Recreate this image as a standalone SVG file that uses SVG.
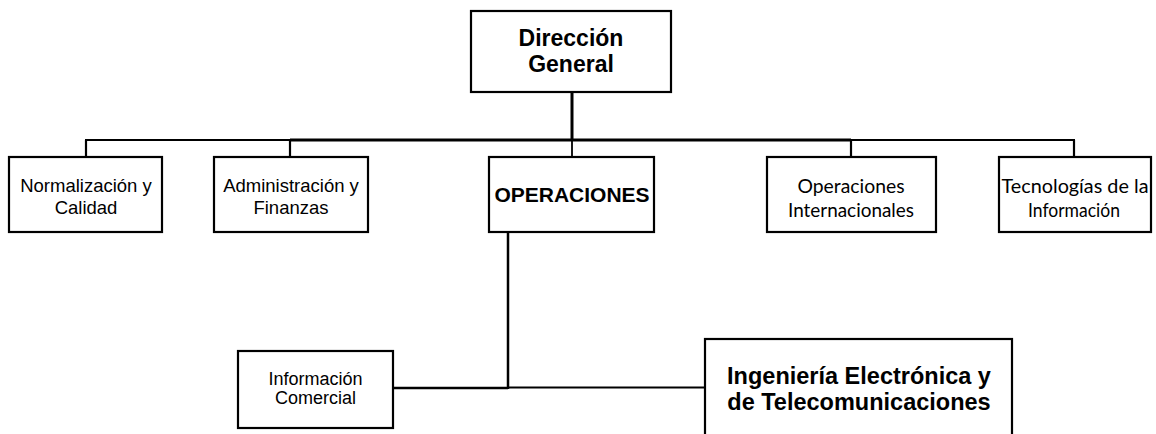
<svg xmlns="http://www.w3.org/2000/svg" width="1156" height="434" viewBox="0 0 1156 434">
<style>
.box{fill:#fff;stroke:#000;stroke-width:2.2}
.ln{stroke:#000;fill:none;stroke-linecap:butt}
.t{font-family:"Liberation Sans",Arial,sans-serif;fill:#000;text-anchor:middle}
.b{font-weight:bold}
.c{font-family:Lato,"Liberation Sans",sans-serif;fill:#000;text-anchor:middle}
</style>
<rect width="1156" height="434" fill="#fff"/>
<g id="connectors">
<line class="ln" x1="572" y1="92" x2="572" y2="140" stroke-width="3"/>
<line class="ln" x1="85" y1="140" x2="290" y2="140" stroke-width="2.2"/>
<line class="ln" x1="290" y1="140" x2="851" y2="140" stroke-width="3"/>
<line class="ln" x1="851" y1="140" x2="1075" y2="140" stroke-width="2.2"/>
<line class="ln" x1="86" y1="140" x2="86" y2="157" stroke-width="2.2"/>
<line class="ln" x1="290" y1="140" x2="290" y2="157" stroke-width="2.2"/>
<line class="ln" x1="572" y1="140" x2="572" y2="157" stroke-width="1.8"/>
<line class="ln" x1="851" y1="140" x2="851" y2="157" stroke-width="2.2"/>
<line class="ln" x1="1074" y1="140" x2="1074" y2="157" stroke-width="2.2"/>
<line class="ln" x1="508" y1="232" x2="508" y2="389" stroke-width="2.5"/>
<line class="ln" x1="393" y1="388" x2="508" y2="388" stroke-width="2.5"/>
<line class="ln" x1="508" y1="387.5" x2="705" y2="387.5" stroke-width="2.2"/>
</g>
<g id="direccion">
<rect class="box" x="471" y="11" width="200" height="81"/>
<text class="t b" x="571" y="46" font-size="23">Dirección</text>
<text class="t b" x="571" y="71.5" font-size="23">General</text>
</g>
<g id="normalizacion">
<rect class="box" x="9" y="157" width="153" height="75"/>
<text class="t" x="86" y="192" font-size="18.5">Normalización y</text>
<text class="t" x="86" y="213.5" font-size="18.5">Calidad</text>
</g>
<g id="administracion">
<rect class="box" x="214" y="157" width="154" height="75"/>
<text class="t" x="291" y="192" font-size="18.5">Administración y</text>
<text class="t" x="291" y="213.5" font-size="18.5">Finanzas</text>
</g>
<g id="operaciones">
<rect class="box" x="489" y="157" width="165" height="75"/>
<text class="t b" x="572" y="202" font-size="21">OPERACIONES</text>
</g>
<g id="operaciones-internacionales">
<rect class="box" x="767" y="157" width="169" height="75"/>
<text class="c" x="851" y="192.5" font-size="18.5" textLength="107" lengthAdjust="spacingAndGlyphs">Operaciones</text>
<text class="c" x="851" y="216.5" font-size="18.5" textLength="126" lengthAdjust="spacingAndGlyphs">Internacionales</text>
</g>
<g id="tecnologias">
<rect class="box" x="999" y="157" width="152" height="75"/>
<text class="c" x="1075" y="192.5" font-size="18.5" textLength="147" lengthAdjust="spacingAndGlyphs">Tecnologías de la</text>
<text class="c" x="1074" y="216.5" font-size="18.5" textLength="92" lengthAdjust="spacingAndGlyphs">Información</text>
</g>
<g id="informacion-comercial">
<rect class="box" x="238" y="351" width="155" height="77"/>
<text class="t" x="315.5" y="385" font-size="18">Información</text>
<text class="t" x="315.5" y="404" font-size="18">Comercial</text>
</g>
<g id="ingenieria">
<rect class="box" x="705" y="339" width="307" height="110" stroke-width="2.5"/>
<text class="t b" x="859" y="384" font-size="23.5">Ingeniería Electrónica y</text>
<text class="t b" x="859" y="410" font-size="23.5">de Telecomunicaciones</text>
</g>
</svg>
